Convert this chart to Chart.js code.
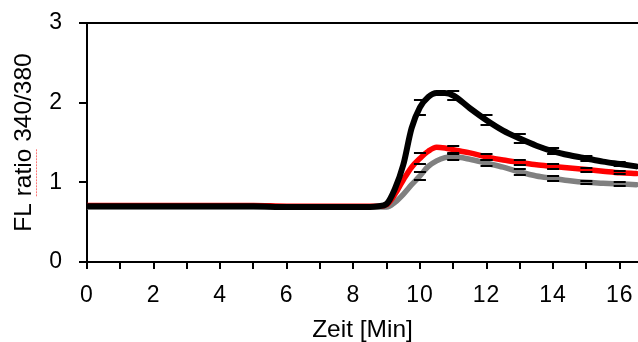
<!DOCTYPE html>
<html>
<head>
<meta charset="utf-8">
<script src="https://cdn.jsdelivr.net/npm/chart.js@4.4.1/dist/chart.umd.min.js"></script>
<style>
  html, body { margin: 0; padding: 0; background: #fff; }
</style>
</head>
<body>
<canvas id="myChart" width="638" height="342"></canvas>
<script>
// time in minutes
const times = [0, 1, 2, 3, 4, 5, 6, 7, 8, 8.5, 8.75, 9, 9.25, 9.5, 9.75, 10, 10.25, 10.5, 10.75, 11, 11.5, 12, 12.5, 13, 13.5, 14, 14.5, 15, 15.5, 16, 16.5];
const blackRatio = [0.70, 0.70, 0.70, 0.70, 0.70, 0.70, 0.69, 0.69, 0.69, 0.69, 0.70, 0.73, 0.92, 1.22, 1.68, 1.94, 2.07, 2.12, 2.12, 2.09, 1.93, 1.78, 1.65, 1.55, 1.46, 1.39, 1.34, 1.30, 1.26, 1.23, 1.20];
const redRatio = [0.71, 0.71, 0.71, 0.71, 0.71, 0.71, 0.70, 0.70, 0.70, 0.70, 0.70, 0.72, 0.85, 1.03, 1.19, 1.30, 1.39, 1.44, 1.43, 1.41, 1.37, 1.32, 1.28, 1.25, 1.22, 1.20, 1.18, 1.16, 1.14, 1.12, 1.11];
const grayRatio = [0.69, 0.69, 0.69, 0.69, 0.69, 0.69, 0.69, 0.69, 0.69, 0.69, 0.69, 0.69, 0.75, 0.85, 0.97, 1.08, 1.20, 1.27, 1.31, 1.32, 1.29, 1.24, 1.19, 1.13, 1.08, 1.05, 1.02, 1.00, 0.99, 0.98, 0.97];

// error bars (SEM) every minute after stimulation
const errTimes = [10, 11, 12, 13, 14, 15, 16];
const blackErr = [0.09, 0.06, 0.065, 0.055, 0.04, 0.03, 0.025];
const redErr = [0.065, 0.04, 0.04, 0.035, 0.03, 0.025, 0.02];
const grayErr = [0.05, 0.04, 0.04, 0.035, 0.03, 0.02, 0.02];

const FONT = "'Liberation Sans', Arial, sans-serif";
const TICK_SIZE = 23;
const TITLE_SIZE = 24.5;
const yTitle = "FL ratio 340/380";

const pts = (vals) => times.map((t, i) => ({ x: t, y: vals[i] }));

const errorBars = {
  id: "errorBars",
  beforeDraw(chart) {
    // tick labels in the original are a little wider than Arial
    Object.values(chart.scales).forEach((s) => {
      if (s._spaced) return;
      const orig = s.drawLabels.bind(s);
      s.drawLabels = (area) => {
        s.ctx.letterSpacing = "1px";
        orig(area);
        s.ctx.letterSpacing = "0px";
      };
      s._spaced = true;
    });
  },
  afterDatasetsDraw(chart) {
    const { ctx, scales: { x, y } } = chart;
    const sets = [
      [blackRatio, blackErr],
      [redRatio, redErr],
      [grayRatio, grayErr],
    ];
    ctx.save();
    ctx.strokeStyle = "#000";
    ctx.lineWidth = 2;
    sets.forEach(([vals, errs]) => {
      errTimes.forEach((t, i) => {
        const v = vals[times.indexOf(t)];
        const px = x.getPixelForValue(t);
        [v + errs[i], v - errs[i]].forEach((e) => {
          const py = Math.round(y.getPixelForValue(e));
          ctx.beginPath();
          ctx.moveTo(px - 6, py);
          ctx.lineTo(px + 6, py);
          ctx.stroke();
        });
      });
    });
    // top frame line
    const area = chart.chartArea;
    ctx.beginPath();
    ctx.moveTo(area.left, area.top);
    ctx.lineTo(area.right, area.top);
    ctx.stroke();
    ctx.restore();
  },
  afterDraw(chart) {
    // red squiggle under "ratio" in the y title
    const { ctx, chartArea: area } = chart;
    ctx.save();
    ctx.font = TITLE_SIZE + "px " + FONT;
    const full = ctx.measureText(yTitle).width;
    const pre = ctx.measureText("FL ").width;
    const word = ctx.measureText("ratio").width;
    const cy = (area.top + area.bottom) / 2;
    const start = cy + full / 2 - pre;
    ctx.strokeStyle = "rgba(255,60,60,0.7)";
    ctx.lineWidth = 1;
    ctx.setLineDash([2, 1]);
    ctx.beginPath();
    ctx.moveTo(36.5, start);
    ctx.lineTo(36.5, start - word);
    ctx.stroke();
    ctx.restore();
  },
};

const ctx = document.getElementById("myChart");
new Chart(ctx, {
  type: "line",
  data: {
    datasets: [
      { data: pts(blackRatio), borderColor: "#000000", borderWidth: 6 },
      { data: pts(redRatio), borderColor: "#ff0000", borderWidth: 5.5 },
      { data: pts(grayRatio), borderColor: "#808080", borderWidth: 5.5 },
    ],
  },
  options: {
    responsive: false,
    animation: false,
    layout: { padding: { top: 23, right: 0, left: 0, bottom: 0 } },
    elements: {
      point: { radius: 0 },
      line: { cubicInterpolationMode: "monotone", borderCapStyle: "round", borderJoinStyle: "round" },
    },
    plugins: {
      legend: { display: false },
      tooltip: { enabled: false },
    },
    scales: {
      x: {
        type: "linear",
        min: 0,
        max: 16.55,
        afterFit: (s) => { s.height = 80; s.paddingLeft = 0; s.paddingRight = 0; },
        border: { display: true, color: "#000", width: 2 },
        grid: { drawOnChartArea: false, drawTicks: true, tickLength: 7, color: "#000", lineWidth: 2 },
        ticks: {
          stepSize: 1,
          includeBounds: false,
          maxRotation: 0,
          autoSkip: false,
          padding: 13,
          color: "#000",
          font: { family: FONT, size: TICK_SIZE },
          callback: (v) => (v % 2 === 0 ? v : ""),
        },
        title: {
          display: true,
          text: "Zeit [Min]",
          color: "#000",
          font: { family: FONT, size: TITLE_SIZE },
          padding: { top: 0, bottom: -3 },
        },
      },
      y: {
        min: 0,
        max: 3,
        afterFit: (s) => { s.width = 87; s.paddingTop = 0; s.paddingBottom = 0; },
        border: { display: true, color: "#000", width: 2 },
        grid: { drawOnChartArea: false, drawTicks: true, tickLength: 8, color: "#000", lineWidth: 2 },
        ticks: {
          stepSize: 1,
          padding: 16,
          color: "#000",
          font: { family: FONT, size: TICK_SIZE },
        },
        title: {
          display: true,
          text: yTitle,
          color: "#000",
          font: { family: FONT, size: TITLE_SIZE },
          padding: { top: 10, bottom: 0 },
        },
      },
    },
  },
  plugins: [errorBars],
});
</script>
</body>
</html>
